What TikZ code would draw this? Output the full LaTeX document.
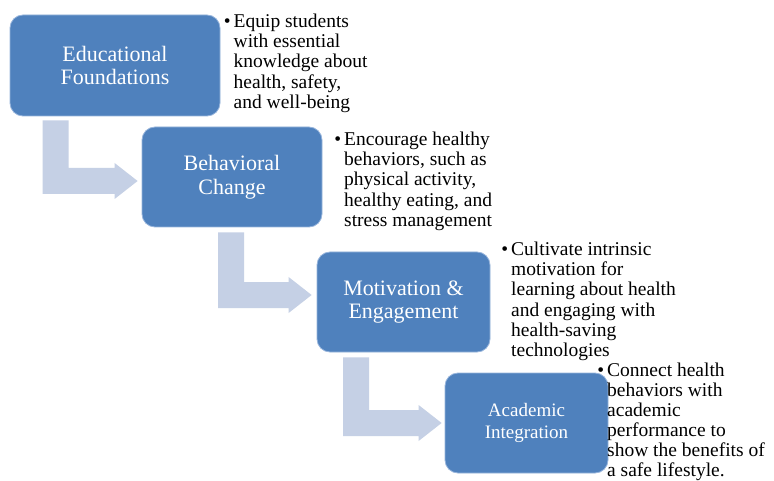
\documentclass[tikz,border=0pt]{standalone}
\usepackage{fontspec}
\setmainfont{Liberation Serif}
\usetikzlibrary{calc,backgrounds}
\definecolor{boxblue}{RGB}{79,129,189}
\definecolor{boxedge}{RGB}{150,180,220}
\definecolor{arrowc}{RGB}{197,208,229}
\tikzset{
  stagebox/.style={rectangle, rounded corners=13pt, fill=boxblue, draw=boxedge, line width=0.8pt,
    text=white, align=center, inner sep=0pt, font=\fontsize{22}{23.5}\selectfont},
  bullettext/.style={anchor=north west, inner sep=0pt, align=left, text=black,
    font=\fontsize{19.5}{20.2}\selectfont},
}
\newcommand\bentarrow[2]{%
  \fill[arrowc] let \p1=(#1), \p2=(#2) in
    (\x1-13pt,\y1) -- (\x1+13pt,\y1) -- (\x1+13pt,\y2+13pt) -- (\x2-23pt,\y2+13pt)
    -- (\x2-23pt,\y2+18pt) -- (\x2,\y2) -- (\x2-23pt,\y2-18pt) -- (\x2-23pt,\y2-13pt)
    -- (\x1-13pt,\y2-13pt) -- cycle;}
\begin{document}
\begin{tikzpicture}[x=1pt,y=-1pt]
\useasboundingbox (0,0) rectangle (774,481);
% stage boxes
\node[stagebox, minimum width=210pt, minimum height=101pt] (b1) at (115,65.5) {Educational\\Foundations};
\node[stagebox, minimum width=180pt, minimum height=100pt] (b2) at (232,177) {Behavioral\\Change};
\node[stagebox, minimum width=173pt, minimum height=100pt] (b3) at (403.5,302) {Motivation \&\\Engagement};
\node[stagebox, minimum width=163pt, minimum height=100pt, font=\fontsize{19}{22}\selectfont] (b4) at (526.5,423) {Academic\\Integration};
% bullet texts
\node[bullettext] (t1) at (233.5,13.7) {\llap{\textbullet\hspace{3pt}}Equip students\\with essential\\knowledge about\\health, safety,\\and well-being};
\node[bullettext] (t2) at (344,131.7) {\llap{\textbullet\hspace{3pt}}Encourage healthy\\behaviors, such as\\physical activity,\\healthy eating, and\\stress management};
\node[bullettext] (t3) at (511,241.7) {\llap{\textbullet\hspace{3pt}}Cultivate intrinsic\\motivation for\\learning about health\\and engaging with\\health-saving\\technologies};
\node[bullettext, font=\fontsize{19.5}{20}\selectfont] (t4) at (607,362.5) {\llap{\textbullet\hspace{3pt}}Connect health\\behaviors with\\academic\\performance to\\show the benefits of\\a safe lifestyle.};
% bent arrows
\begin{scope}[on background layer]
  \fill[white] (0,0) rectangle (774,481);
  \bentarrow{$(b1.south west)+(46,4)$}{$(b2.west)+(-4,4)$}
  \bentarrow{$(b2.south west)+(89.5,5)$}{$(b3.west)+(-5,-7)$}
  \bentarrow{$(b3.south west)+(39.5,5)$}{$(b4.west)+(-3,0)$}
\end{scope}
\end{tikzpicture}
\end{document}
